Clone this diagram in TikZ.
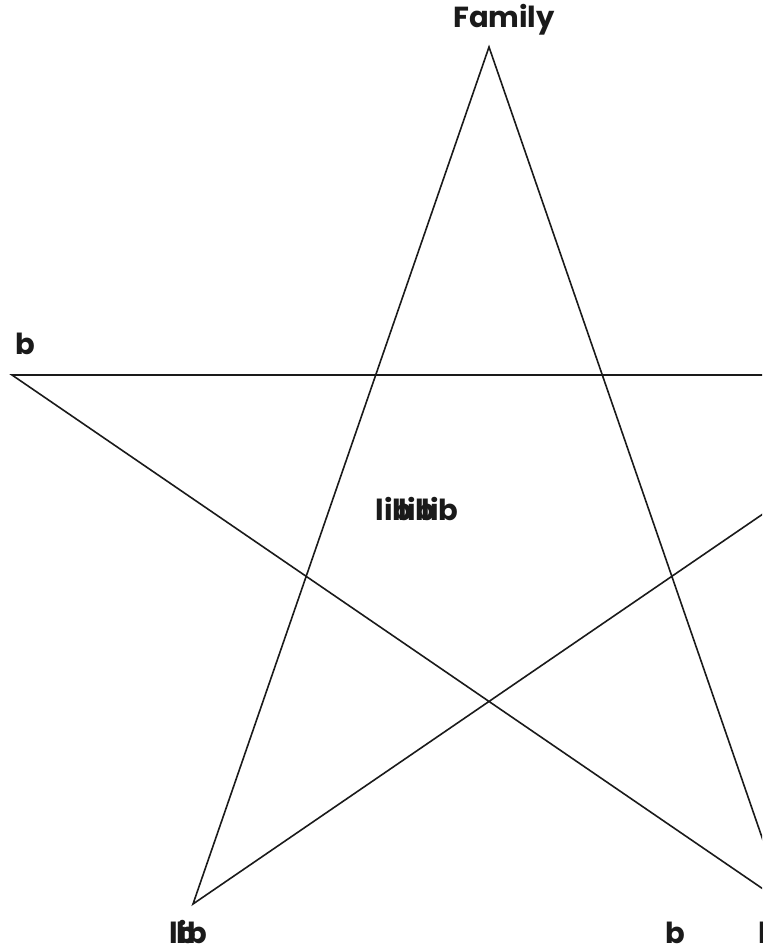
\documentclass[tikz,border=0pt]{standalone}
\usepackage{fontspec}
\setmainfont{Poppins}
\usepackage{xcolor}
\definecolor{cLine}{HTML}{1A1A1A}
\definecolor{cText}{HTML}{1A1A1A}
\usetikzlibrary{positioning}
\tikzset{
  star-edge/.style={draw=cLine,line width=0.8pt,line join=miter},
  node-label/.style={inner sep=0pt,anchor=base,text=cText,
    font=\fontsize{14.5}{18}\selectfont\bfseries},
}
\newcommand{\lbstack}{lib\kern-0.48em lib\kern-0.48em lib}

\begin{document}
\begin{tikzpicture}[x=0.5pt,y=-0.5pt]
  \useasboundingbox (0,0) rectangle (762,951);
  \clip (0,0) rectangle (762,951);
  \coordinate (top)  at (489,47);
  \coordinate (left) at (12,375);
  \coordinate (right) at (966,375);
  \coordinate (botL) at (193,904);
  \coordinate (botR) at (785,904);
  \draw[star-edge] (top) -- (botL) -- (right) -- (left) -- (botR) -- cycle;
  \node[node-label] (lblTop)  at (504,28)  {Family};
  \node[node-label] (lblLeft) at (25,355)  {b};
  \node[node-label] (lblMid)  at (417,520) {\lbstack};
  \node[node-label] (lblBotL) at (183,943) {\rlap{lib}\kern0.22em b};
  \node[node-label] (lblBotR) at (675,943) {b};
  \node[node-label,anchor=base west] (lblEdge) at (758,943) {lib};
\end{tikzpicture}
\end{document}
